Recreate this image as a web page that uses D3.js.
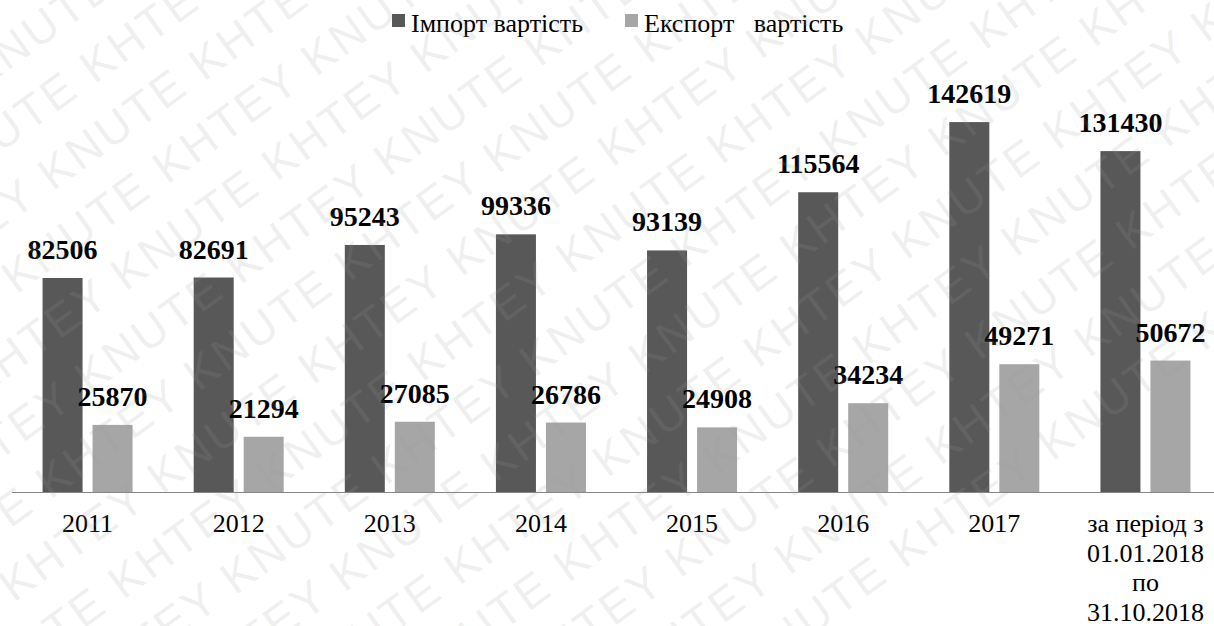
<!DOCTYPE html>
<html>
<head>
<meta charset="utf-8">
<script src="https://cdn.jsdelivr.net/npm/d3@7"></script>
<style>
    body { margin: 0; background: #fff; }
    svg { display: block; }
</style>
</head>
<body>
<div id="chart"></div>
<script>
const categories = ['2011', '2012', '2013', '2014', '2015', '2016', '2017', 'за період з 01.01.2018 по 31.10.2018']
const categoryLines = [['2011'], ['2012'], ['2013'], ['2014'], ['2015'], ['2016'], ['2017'],
    ['за період з', '01.01.2018', 'по', '31.10.2018']]
const importValues = [82506, 82691, 95243, 99336, 93139, 115564, 142619, 131430]
const exportValues = [25870, 21294, 27085, 26786, 24908, 34234, 49271, 50672]
const seriesNames = ['Імпорт вартість', 'Експорт\u00a0\u00a0\u00a0вартість']

const width = 1214
const height = 626
const baseY = 492
const colors = ['#585858', '#a6a6a6']
const serif = '"Liberation Serif", "Times New Roman", serif'

const svg = d3.select('#chart').append('svg')
    .attr('width', width)
    .attr('height', height)

const x = d3.scaleBand().domain(categories).range([12, 1221])
const x1 = d3.scaleBand().domain([0, 1]).range([0, 90]).paddingInner(0.2)
const y = d3.scaleLinear().domain([0, 160000]).range([baseY, 77])

const rows = categories.map((c, i) => ({ cat: c, lines: categoryLines[i], values: [importValues[i], exportValues[i]] }))

// bars
const groups = svg.append('g').selectAll('g')
    .data(rows)
    .enter()
        .append('g')
            .attr('transform', d => `translate(${x(d.cat) + (x.bandwidth() - 90) / 2},0)`)

groups.selectAll('rect')
    .data(d => d.values.map((v, k) => ({ k, v })))
    .enter()
        .append('rect')
            .attr('x', d => x1(d.k))
            .attr('y', d => y(d.v))
            .attr('width', x1.bandwidth())
            .attr('height', d => baseY - y(d.v))
            .attr('fill', d => colors[d.k])

groups.selectAll('text.val')
    .data(d => d.values.map((v, k) => ({ k, v })))
    .enter()
        .append('text')
            .attr('class', 'val')
            .attr('x', d => x1(d.k) + x1.bandwidth() / 2)
            .attr('y', d => y(d.v) - 19)
            .attr('text-anchor', 'middle')
            .style('font-family', serif)
            .style('font-size', '28px')
            .style('font-weight', 'bold')
            .attr('fill', '#000')
            .text(d => d.v)

// axis line
svg.append('line')
    .attr('x1', 12).attr('x2', width)
    .attr('y1', baseY + 0.5).attr('y2', baseY + 0.5)
    .attr('stroke', '#868686')
    .attr('stroke-width', 1)

// category labels
const catLabels = svg.append('g').selectAll('text')
    .data(rows)
    .enter()
        .append('text')
            .attr('text-anchor', 'middle')
            .style('font-family', serif)
            .style('font-size', '26px')
            .attr('fill', '#000')

catLabels.selectAll('tspan')
    .data(d => d.lines.map(t => ({ t, cx: x(d.cat) + x.bandwidth() / 2 })))
    .enter()
        .append('tspan')
            .attr('x', d => d.cx)
            .attr('y', (d, i) => 532 + i * 29.5)
            .text(d => d.t)

// legend
const legendX = [392, 625]
const legend = svg.append('g').selectAll('g')
    .data(seriesNames)
    .enter()
        .append('g')
            .attr('transform', (d, i) => `translate(${legendX[i]},14)`)
legend.append('rect')
    .attr('width', 13).attr('height', 13)
    .attr('fill', (d, i) => colors[i])
legend.append('text')
    .attr('x', 19)
    .attr('y', 18)
    .style('font-family', serif)
    .style('font-size', '26px')
    .attr('fill', '#000')
    .text(d => d)

// watermark
const wm = svg.append('g')
    .attr('aria-hidden', 'true')
    .attr('pointer-events', 'none')
    .attr('transform', 'rotate(-36)')
const wmText = d3.range(10).map(() => 'KNUTE KHTEY').join(' ')
d3.range(-5, 17).forEach(r => {
    wm.append('text')
        .attr('x', -900 + (r % 2) * 90)
        .attr('y', r * 62)
        .style('font-family', '"Liberation Sans", Arial, sans-serif')
        .style('font-size', '46px')
        .attr('letter-spacing', 3)
        .attr('fill', '#9a9a9a')
        .attr('fill-opacity', 0.16)
        .text(wmText)
})
</script>
</body>
</html>
